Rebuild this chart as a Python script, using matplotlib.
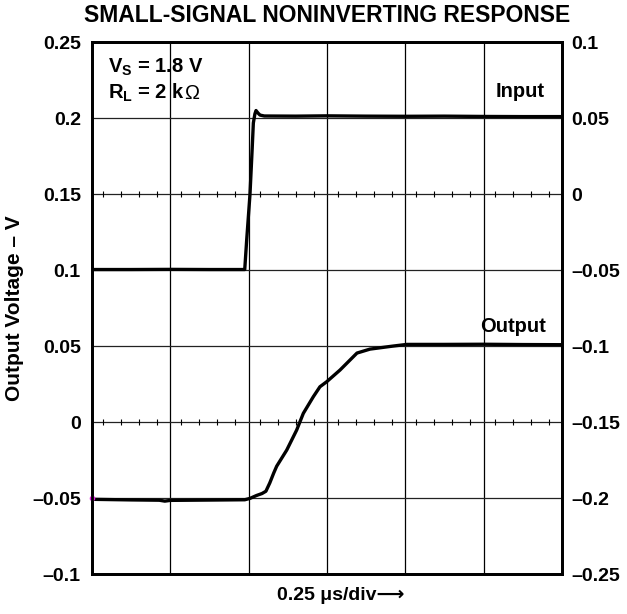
import numpy as np
import matplotlib.pyplot as plt

plt.rcParams['font.family'] = ['Liberation Sans', 'DejaVu Sans']
plt.rcParams['font.weight'] = 'bold'
plt.rcParams['mathtext.fontset'] = 'custom'
plt.rcParams['mathtext.rm'] = 'Liberation Sans:bold'
plt.rcParams['mathtext.bf'] = 'Liberation Sans:bold'

# time in divisions (0.25 us/div), voltages in V (left axis)
t_in = [0.0, 0.5, 1.0, 1.5, 1.95, 1.975, 2.017, 2.045, 2.06, 2.08, 2.094, 2.12, 2.145, 2.2,
        2.6, 3.0, 3.5, 4.0, 4.5, 5.0, 5.5, 6.0]
v_in = [0.1005, 0.1005, 0.1006, 0.1005, 0.1005, 0.12, 0.15, 0.18, 0.197, 0.203, 0.2052,
        0.2035, 0.2022, 0.2016, 0.2015, 0.2017, 0.2015, 0.2014, 0.2015, 0.2013, 0.2012, 0.2012]

t_out = [0.0, 0.5, 0.86, 0.93, 1.0, 1.5, 1.95, 2.017, 2.10, 2.17, 2.22, 2.27, 2.32, 2.358,
         2.486, 2.613, 2.698, 2.825, 2.91, 2.996, 3.166, 3.383, 3.549, 3.843, 4.021,
         4.5, 5.0, 5.5, 6.0]
v_out = [-0.0508, -0.0512, -0.0514, -0.052, -0.0515, -0.0513, -0.0511, -0.0502, -0.0483,
         -0.047, -0.0455, -0.040, -0.0335, -0.029, -0.0184, -0.0052, 0.0058, 0.0167,
         0.0233, 0.0266, 0.0343, 0.0455, 0.0481, 0.0501, 0.0512, 0.0512, 0.0513, 0.0511,
         0.051]

left_ticks = [-0.1, -0.05, 0, 0.05, 0.1, 0.15, 0.2, 0.25]
left_labels = ['\u20130.1', '\u20130.05', '0', '0.05', '0.1', '0.15', '0.2', '0.25']
right_ticks = [-0.25, -0.2, -0.15, -0.1, -0.05, 0, 0.05, 0.1]
right_labels = ['\u20130.25', '\u20130.2', '\u20130.15', '\u20130.1', '\u20130.05', '0', '0.05', '0.1']

fig = plt.figure(figsize=(6.27, 6.14), dpi=100)
ax = fig.add_axes([0.1467, 0.0651, 0.7496, 0.8657])

for x in range(1, 6):
    ax.axvline(x, color='k', lw=0.9, zorder=1)
for y in left_ticks[1:-1]:
    ax.axhline(y, color='#222222', lw=0.9, zorder=1)

# graticule marks on two of the horizontal lines
marks = [d + o for d in range(6) for o in (0.14, 0.37, 0.6, 0.83)]
for y in (0.15, 0):
    ax.plot(marks, [y] * len(marks), '|', color='k', ms=4, mew=0.8, zorder=1)

ax.plot(t_in, v_in, color='k', lw=2.4, zorder=3)
ax.plot(t_out, v_out, color='k', lw=2.4, zorder=3)
ax.plot(0, -0.05, 'o', color='#e020e0', ms=3, clip_on=False, zorder=4)

ax.set_xlim(0, 6)
ax.set_ylim(-0.1, 0.25)
ax.set_xticks([])
ax.set_yticks(left_ticks)
ax.set_yticklabels(left_labels, fontsize=14, fontweight='bold')
ax.tick_params(axis='y', length=0, pad=8)
for s in ax.spines.values():
    s.set_linewidth(2)

ax2 = ax.twinx()
ax2.set_ylim(-0.25, 0.1)
ax2.set_yticks(right_ticks)
ax2.set_yticklabels(right_labels, fontsize=14, fontweight='bold')
ax2.tick_params(axis='y', length=0, pad=7)
for s in ax2.spines.values():
    s.set_linewidth(2)

ax.text(0.21, 0.2299, 'V$_\\mathbf{S}$ = 1.8 V', fontsize=14.5, fontweight='bold', va='baseline')
rl = ax.text(0.21, 0.2128, 'R$_\\mathbf{L}$ = 2 k', fontsize=14.5, fontweight='bold',
             va='baseline')
ax.annotate('\u03a9', xy=(1, 0.2128), xycoords=(rl, 'data'), xytext=(-0.5, 0),
            textcoords='offset points', fontsize=14.5, fontweight='normal',
            ha='left', va='baseline')
ax.text(5.78, 0.2174, 'Input', fontsize=14.5, fontweight='bold', ha='right', va='center')
ax.text(5.8, 0.0633, 'Output', fontsize=14.5, fontweight='bold', ha='right', va='center')

ax.set_title('SMALL-SIGNAL NONINVERTING RESPONSE', fontsize=16.5, fontweight='bold', pad=15)
ax.set_ylabel('Output Voltage \u2013 V', fontsize=15, fontweight='bold', labelpad=6)
ax.set_xlabel('0.25 \u03bcs/div\u27f6', fontsize=14, fontweight='bold')
ax.xaxis.set_label_coords(0.53, -0.025)
ax.xaxis.label.set_va('top')

fig.savefig('out.png', dpi=100)
